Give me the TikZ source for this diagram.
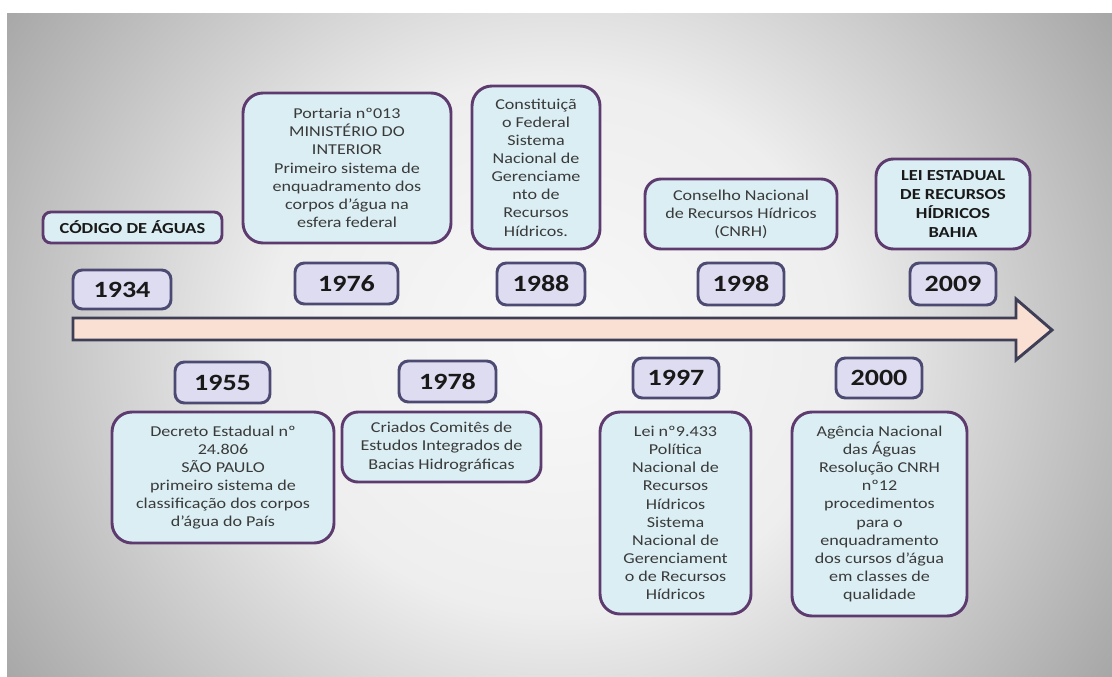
\documentclass[tikz,border=0pt]{standalone}
\usepackage{fontspec}
\setmainfont{Carlito}[FakeStretch=1.2]
\usepackage{tikz}
\definecolor{boxfill}{HTML}{DAEEF3}
\definecolor{boxline}{HTML}{5E3B6E}
\definecolor{yearfill}{HTML}{DEDCF0}
\definecolor{yearline}{HTML}{4C4A72}
\definecolor{arrowfill}{HTML}{FADFD3}
\definecolor{arrowline}{HTML}{3E3F56}
\definecolor{bgin}{HTML}{F8F8F8}
\definecolor{bgmid}{HTML}{EEEEEE}
\definecolor{bgout}{HTML}{8C8C8C}
\definecolor{bgcorner}{HTML}{828282}
\definecolor{txt}{HTML}{3A3A3A}
\pgfdeclareradialshading{slidebg}{\pgfpoint{0bp}{0bp}}{color(0bp)=(bgin); color(13bp)=(bgmid); color(36bp)=(bgout); color(50bp)=(bgcorner)}
\tikzset{
  size/.style 2 args={minimum width=#1*0.75pt, minimum height=#2*0.75pt},
  event/.style={draw=boxline, fill=boxfill, line width=2.2pt, rounded corners=15pt,
    inner sep=0pt, align=center, text=txt, font=\fontsize{11.3}{13.6}\selectfont},
  title/.style={event, text=black!90, font=\fontsize{11.5}{14.2}\selectfont\bfseries},
  year/.style={draw=yearline, fill=yearfill, line width=2.2pt, rounded corners=7pt,
    inner sep=0pt, text=black!90, font=\fontsize{17.5}{20}\selectfont\bfseries}
}
\begin{document}
\begin{tikzpicture}[x=0.75pt,y=-0.75pt]
\useasboundingbox (0,0) rectangle (1112,677);
\fill[white] (0,0) rectangle (1112,677);
\begin{scope}
\clip (7,14) rectangle (1112,677);
\shade[shading=slidebg] (0,-170) rectangle (1112,860);
\end{scope}
\draw[draw=arrowline, fill=arrowfill, line width=2.2pt, line join=miter]
  (73,318) -- (1016,318) -- (1016,299) -- (1052,330) -- (1016,360) -- (1016,340) -- (73,340) -- cycle;
% above the line
\node[title, rounded corners=6pt, size={179}{31}] (codigo) at (132.5,227.5) {CÓDIGO DE ÁGUAS};
\node[year, size={98}{39}] (y1934) at (122,289.5) {1934};
\node[event, size={208}{150}] (portaria) at (347,168) {Portaria nº013\\MINISTÉRIO DO\\INTERIOR\\Primeiro sistema de\\enquadramento dos\\corpos d’água na\\esfera federal};
\node[year, size={103}{41}] (y1976) at (346.5,283.5) {1976};
\node[event, size={128}{163}] (constituicao) at (536,167.5) {Constituiçã\\o Federal\\Sistema\\Nacional de\\Gerenciame\\nto de\\Recursos\\Hídricos.};
\node[year, size={88}{42}] (y1988) at (541,284) {1988};
\node[event, rounded corners=12pt, size={192}{70}] (conselho) at (741,214) {Conselho Nacional\\de Recursos Hídricos\\(CNRH)};
\node[year, size={86}{42}] (y1998) at (741,284) {1998};
\node[title, rounded corners=13pt, size={154}{90}] (leibahia) at (953,204) {LEI ESTADUAL\\DE RECURSOS\\HÍDRICOS\\BAHIA};
\node[year, size={86}{42}] (y2009) at (953,284) {2009};
% below the line
\node[year, size={95}{41}] (y1955) at (222.5,382.5) {1955};
\node[event, size={222}{131}] (decreto) at (223,477.5) {Decreto Estadual nº\\24.806\\SÃO PAULO\\primeiro sistema de\\classificação dos corpos\\d’água do País};
\node[year, size={97}{41}] (y1978) at (447.5,381.5) {1978};
\node[event, rounded corners=12pt, size={199}{70}] (criados) at (441.5,447) {Criados Comitês de\\Estudos Integrados de\\Bacias Hidrográficas};
\node[year, size={86}{40}] (y1997) at (676,378) {1997};
\node[event, size={151}{202}] (lei9433) at (675.5,513) {Lei nº9.433\\Política\\Nacional de\\Recursos\\Hídricos\\Sistema\\Nacional de\\Gerenciament\\o de Recursos\\Hídricos};
\node[year, size={86}{40}] (y2000) at (879,378) {2000};
\node[event, size={175}{204}] (agencia) at (879.5,514) {Agência Nacional\\das Águas\\Resolução CNRH\\nº12\\procedimentos\\para o\\enquadramento\\dos cursos d’água\\em classes de\\qualidade};
\end{tikzpicture}
\end{document}
